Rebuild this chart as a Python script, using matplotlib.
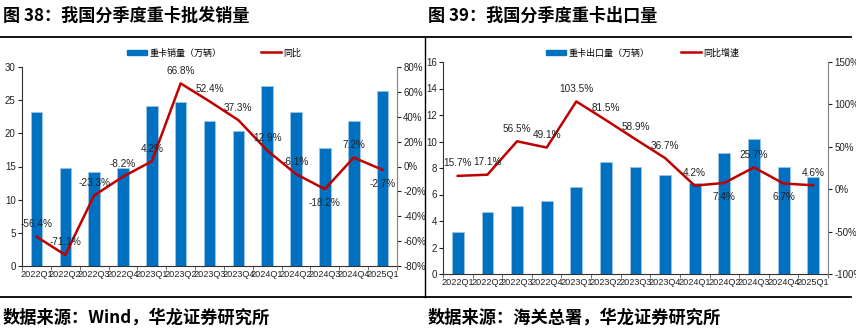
import matplotlib
matplotlib.use("Agg")
import matplotlib.pyplot as plt
from matplotlib.lines import Line2D
from matplotlib.patches import Patch
import numpy as np

plt.rcParams['font.family'] = ['Liberation Sans', 'Noto Sans CJK SC', 'DejaVu Sans']

quarters = ["2022Q1", "2022Q2", "2022Q3", "2022Q4", "2023Q1", "2023Q2", "2023Q3",
            "2023Q4", "2024Q1", "2024Q2", "2024Q3", "2024Q4", "2025Q1"]

sales = [23.2, 14.7, 14.2, 14.8, 24.1, 24.7, 21.8, 20.4, 27.2, 23.2, 17.8, 21.9, 26.4]
sales_yoy = [-56.4, -71.1, -23.3, -8.2, 4.2, 66.8, 52.4, 37.3, 12.9, -6.1, -18.2, 7.2, -2.7]

exports = [3.2, 4.65, 5.1, 5.5, 6.6, 8.45, 8.1, 7.5, 6.9, 9.1, 10.2, 8.05, 7.3]
exports_yoy = [15.7, 17.1, 56.5, 49.1, 103.5, 81.5, 58.9, 36.7, 4.2, 7.4, 25.7, 6.7, 4.6]

title_left = "图 38：我国分季度重卡批发销量"
title_right = "图 39：我国分季度重卡出口量"
source_left = "数据来源：Wind，华龙证券研究所"
source_right = "数据来源：海关总署，华龙证券研究所"
bar_label_left = "重卡销量（万辆）"
line_label_left = "同比"
bar_label_right = "重卡出口量（万辆）"
line_label_right = "同比增速"

BLUE = "#0070C0"
RED = "#C00000"
W, H = 856, 335
fig = plt.figure(figsize=(W / 100, H / 100), dpi=100)

def fx(px):
    return px / W

def fy(py):
    return 1 - py / H

cjk = ['Noto Sans CJK SC', 'DejaVu Sans']

# frame lines
fig.add_artist(Line2D([0, fx(851)], [fy(37), fy(37)], color='black', lw=1.3, transform=fig.transFigure))
fig.add_artist(Line2D([0, fx(851)], [fy(297), fy(297)], color='black', lw=1.3, transform=fig.transFigure))
fig.add_artist(Line2D([fx(425), fx(425)], [fy(37), fy(297)], color='black', lw=1.0, transform=fig.transFigure))

fig.text(fx(3), fy(16), title_left, fontsize=12.3, fontweight='bold', family=cjk, va='center', ha='left')
fig.text(fx(428), fy(16), title_right, fontsize=12.3, fontweight='bold', family=cjk, va='center', ha='left')
fig.text(fx(3), fy(318), source_left, fontsize=12.4, fontweight='bold', family=cjk, va='center', ha='left')
fig.text(fx(428), fy(318), source_right, fontsize=12.4, fontweight='bold', family=cjk, va='center', ha='left')


def panel(rect, bars, yoy, ylim, yticks, y2lim, y2ticks, below, legend_x, bar_lab, line_lab, legend_y):
    ax = fig.add_axes(rect)
    x = np.arange(len(quarters))
    ax.bar(x, bars, width=0.4, color=BLUE, edgecolor='#9DC3E6', linewidth=0.6, zorder=2)
    ax.set_xlim(-0.5, len(quarters) - 0.5)
    ax.set_ylim(*ylim)
    ax.set_yticks(yticks)
    ax.set_xticks(x)
    ax.set_xticklabels(quarters)
    ax.set_xticks(np.arange(-0.5, len(quarters), 1), minor=True)
    ax.tick_params(axis='x', which='major', length=0, labelsize=6.6, pad=3, colors='#222222')
    ax.tick_params(axis='x', which='minor', length=3, direction='out', color='#555555')
    ax.tick_params(axis='y', labelsize=7, length=3, pad=1.5, direction='out', colors='#222222')
    for s in ['top', 'right']:
        ax.spines[s].set_visible(False)
    ax.spines['left'].set_color('#333333')
    ax.spines['bottom'].set_color('#333333')
    ax.patch.set_alpha(0)

    ax2 = ax.twinx()
    ax2.plot(x, yoy, color=RED, lw=1.8, zorder=3)
    ax2.set_ylim(*y2lim)
    ax2.set_yticks(y2ticks)
    ax2.set_yticklabels([f"{int(t)}%" for t in y2ticks])
    ax2.tick_params(axis='y', labelsize=7, length=3, pad=1.5, direction='out', colors='#222222')
    for s in ['top', 'left', 'bottom']:
        ax2.spines[s].set_visible(False)
    ax2.spines['right'].set_color('#808080')
    for i, v in enumerate(yoy):
        off = -10 if i in below else 9
        ax2.annotate(f"{v:.1f}%", (i, v), xytext=(0, off), textcoords='offset points',
                     ha='center', va='center', fontsize=7.2, color='#222222', zorder=4)

    hb = Patch(facecolor=BLUE, edgecolor=BLUE)
    hl = Line2D([], [], color=RED, lw=1.8)
    fig.legend([hb], [bar_lab], loc='center left', bbox_to_anchor=(fx(legend_x[0]), fy(legend_y)),
               frameon=False, prop={'family': cjk, 'size': 6.5}, handlelength=2.2, handleheight=0.5,
               handletextpad=0.3, borderaxespad=0, borderpad=0)
    fig.legend([hl], [line_lab], loc='center left', bbox_to_anchor=(fx(legend_x[1]), fy(legend_y)),
               frameon=False, prop={'family': cjk, 'size': 6.5}, handlelength=2.2,
               handletextpad=0.3, borderaxespad=0, borderpad=0)
    return ax, ax2


panel([fx(22), fy(266), fx(397 - 22), (266 - 67) / H], sales, sales_yoy,
      (0, 30), np.arange(0, 31, 5), (-80, 80), np.arange(-80, 81, 20),
      below={10, 12}, legend_x=(127, 261), bar_lab=bar_label_left, line_lab=line_label_left,
      legend_y=53)

panel([fx(443), fy(274), fx(828 - 443), (274 - 62) / H], exports, exports_yoy,
      (0, 16), np.arange(0, 17, 2), (-100, 150), np.arange(-100, 151, 50),
      below={9, 11}, legend_x=(546, 681), bar_lab=bar_label_right, line_lab=line_label_right,
      legend_y=53)

fig.savefig("out.png", dpi=100)
